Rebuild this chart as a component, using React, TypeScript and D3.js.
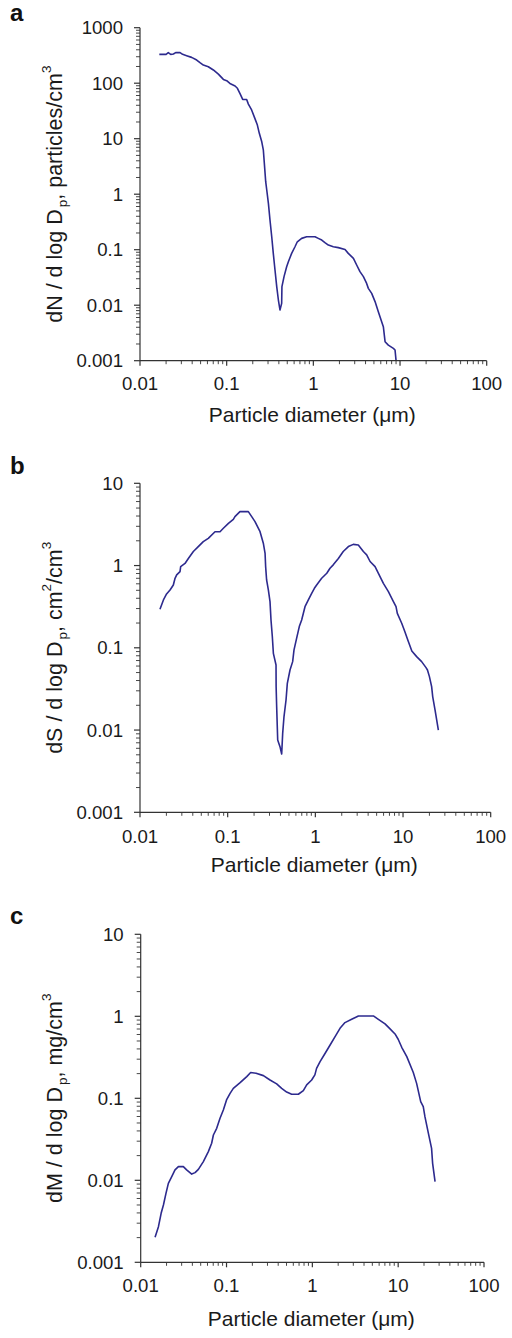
import React from "react";
import * as d3 from "d3";

// ---------- Data ----------
const xTickValues = [0.01, 0.1, 1, 10, 100];
const xTickLabels = ["0.01", "0.1", "1", "10", "100"];

const aTickValues = [0.001, 0.01, 0.1, 1, 10, 100, 1000];
const aTickLabels = ["0.001", "0.01", "0.1", "1", "10", "100", "1000"];
const bcTickValues = [0.001, 0.01, 0.1, 1, 10];
const bcTickLabels = ["0.001", "0.01", "0.1", "1", "10"];

// Panel a: number distribution
const aDiam = [
  0.0167, 0.02, 0.0212, 0.0226, 0.0243, 0.0258, 0.029, 0.031, 0.0345, 0.0394,
  0.0451, 0.0492, 0.0538, 0.0614, 0.0702, 0.0802, 0.0916, 0.1, 0.109, 0.125,
  0.133, 0.143, 0.153, 0.17, 0.178, 0.194, 0.212, 0.226, 0.238, 0.254,
  0.265, 0.272, 0.282, 0.29, 0.303, 0.316, 0.331, 0.345, 0.361, 0.378,
  0.395, 0.412, 0.431, 0.434, 0.459, 0.492, 0.515, 0.562, 0.614, 0.653,
  0.733, 0.837, 1.045, 1.14, 1.25, 1.36, 1.49, 1.7, 1.94, 2.32,
  2.53, 2.9, 3.16, 3.45, 3.78, 4.12, 4.31, 4.71, 5.15, 5.62,
  6.14, 6.42, 6.72, 7.33, 8.38, 8.76, 9.0,
];
const aValue = [
  331, 331, 355, 331, 336, 355, 355, 331, 313, 292,
  261, 234, 212, 198, 173, 146, 117, 111, 99, 89,
  81, 64, 51, 51, 42, 33, 23, 17.6, 12.5, 8.8,
  6.2, 3.6, 1.68, 1.19, 0.684, 0.343, 0.171, 0.0859, 0.043, 0.0216,
  0.0124, 0.0082, 0.0108, 0.0216, 0.0327, 0.0494, 0.0608, 0.0859, 0.113, 0.139,
  0.16, 0.171, 0.171, 0.16, 0.149, 0.134, 0.121, 0.113, 0.109, 0.101,
  0.0859, 0.0698, 0.053, 0.0402, 0.0327, 0.0247, 0.0201, 0.0163, 0.0116, 0.00764,
  0.00505, 0.0041, 0.0022, 0.00191, 0.00167, 0.00156, 0.001,
];

// Panel b: surface distribution
const bDiam = [
  0.0169, 0.0185, 0.0201, 0.022, 0.024, 0.0251, 0.0262, 0.0286, 0.0291, 0.0326,
  0.0356, 0.0406, 0.0462, 0.0527, 0.0601, 0.0717, 0.0818, 0.0893, 0.102, 0.116,
  0.121, 0.138, 0.172, 0.188, 0.205, 0.234, 0.255, 0.267, 0.271, 0.278,
  0.291, 0.304, 0.312, 0.323, 0.332, 0.356, 0.357, 0.362, 0.372, 0.395,
  0.413, 0.424, 0.439, 0.463, 0.479, 0.514, 0.551, 0.571, 0.612, 0.656,
  0.698, 0.762, 0.832, 0.908, 0.975, 1.035, 1.18, 1.35, 1.47, 1.6,
  1.83, 2.08, 2.38, 2.71, 3.09, 3.53, 3.85, 4.21, 4.8, 5.24,
  5.97, 6.81, 7.77, 8.32, 8.61, 9.66, 10.5, 11.5, 12.6, 14.3,
  16.3, 18.3, 19.0, 20.0, 21.2, 21.8, 23.2, 25.3,
];
const bValue = [
  0.294, 0.382, 0.452, 0.505, 0.581, 0.7, 0.769, 0.844, 0.97, 1.06,
  1.22, 1.48, 1.7, 1.95, 2.14, 2.58, 2.58, 2.84, 3.26, 3.65,
  3.93, 4.53, 4.53, 3.93, 3.42, 2.58, 1.87, 1.41, 0.97, 0.668,
  0.505, 0.364, 0.218, 0.137, 0.0857, 0.0618, 0.0337, 0.0193, 0.00757, 0.00628,
  0.00512, 0.00912, 0.0146, 0.0232, 0.037, 0.0537, 0.0679, 0.0942, 0.131, 0.181,
  0.218, 0.316, 0.382, 0.46, 0.529, 0.581, 0.7, 0.805, 0.927, 1.02,
  1.22, 1.48, 1.7, 1.81, 1.78, 1.48, 1.35, 1.12, 0.97, 0.805,
  0.608, 0.482, 0.364, 0.316, 0.262, 0.199, 0.157, 0.119, 0.0915, 0.0781,
  0.0679, 0.0574, 0.0537, 0.0446, 0.0337, 0.0255, 0.0175, 0.01,
];

// Panel c: mass distribution
const cDiam = [
  0.0147, 0.0161, 0.0173, 0.0184, 0.0197, 0.021, 0.023, 0.0251, 0.0275, 0.0314,
  0.0343, 0.0393, 0.043, 0.047, 0.0537, 0.0614, 0.0671, 0.0703, 0.0768, 0.084,
  0.0918, 0.1, 0.11, 0.12, 0.144, 0.172, 0.191, 0.221, 0.269, 0.321,
  0.384, 0.439, 0.502, 0.574, 0.687, 0.785, 0.859, 0.982, 1.07, 1.12,
  1.23, 1.41, 1.61, 1.84, 2.1, 2.4, 2.87, 3.44, 5.14, 5.88,
  7.03, 8.04, 9.19, 10.0, 11.0, 12.6, 15.0, 16.4, 18.3, 19.6,
  20.5, 22.5, 24.5, 25.2, 26.9,
];
const cValue = [
  0.00202, 0.00272, 0.00396, 0.005, 0.00693, 0.00918, 0.0111, 0.0134, 0.0147, 0.0147,
  0.0134, 0.0119, 0.0124, 0.0136, 0.0169, 0.0224, 0.0283, 0.0357, 0.0431, 0.057,
  0.0721, 0.0955, 0.115, 0.132, 0.155, 0.184, 0.206, 0.202, 0.189, 0.167,
  0.15, 0.132, 0.119, 0.112, 0.112, 0.124, 0.146, 0.167, 0.193, 0.232,
  0.28, 0.354, 0.447, 0.565, 0.714, 0.838, 0.919, 1.01, 1.01, 0.919,
  0.807, 0.702, 0.609, 0.525, 0.419, 0.322, 0.206, 0.152, 0.091, 0.079,
  0.0597, 0.0374, 0.0245, 0.0161, 0.00964,
];

// ---------- Layout / style ----------
const FONT = "'Liberation Sans', Arial, Helvetica, sans-serif";
const LINE_COLOR = "#2d2a8e";
const AXIS_COLOR = "#333333";
const TEXT_COLOR = "#1a1a1a";

type Part = { t: string; k?: "sub" | "sup" };

const panels = [
  {
    letter: "a",
    letterY: 21,
    left: 140, right: 486.7, top: 27.7, bottom: 360.7,
    yDomain: [0.001, 1000],
    yTicks: aTickValues, yLabels: aTickLabels,
    diam: aDiam, value: aValue,
    tickLabelDy: 29, titleDy: 61,
    yTitle: [
      { t: "dN / d log D" }, { t: "p", k: "sub" }, { t: ", particles/cm" }, { t: "3", k: "sup" },
    ] as Part[],
  },
  {
    letter: "b",
    letterY: 474,
    left: 140, right: 490.7, top: 483.3, bottom: 812.3,
    yDomain: [0.001, 10],
    yTicks: bcTickValues, yLabels: bcTickLabels,
    diam: bDiam, value: bValue,
    tickLabelDy: 31, titleDy: 60,
    yTitle: [
      { t: "dS / d log D" }, { t: "p", k: "sub" }, { t: ", cm" }, { t: "2", k: "sup" },
      { t: "/cm" }, { t: "3", k: "sup" },
    ] as Part[],
  },
  {
    letter: "c",
    letterY: 924,
    left: 140.7, right: 484, top: 934.3, bottom: 1262.3,
    yDomain: [0.001, 10],
    yTicks: bcTickValues, yLabels: bcTickLabels,
    diam: cDiam, value: cValue,
    tickLabelDy: 29.5, titleDy: 64,
    yTitle: [
      { t: "dM / d log D" }, { t: "p", k: "sub" }, { t: ", mg/cm" }, { t: "3", k: "sup" },
    ] as Part[],
  },
];

function minorTicks(lo: number, hi: number): number[] {
  const out: number[] = [];
  const k0 = Math.floor(Math.log10(lo));
  const k1 = Math.ceil(Math.log10(hi));
  for (let k = k0; k < k1; k++) {
    for (let m = 2; m <= 9; m++) {
      const v = m * Math.pow(10, k);
      if (v > lo && v < hi) out.push(v);
    }
  }
  return out;
}

function YTitle({ parts, cx, cy }: { parts: Part[]; cx: number; cy: number }) {
  const SUB = 5;
  const SUP = 11;
  const spans: React.ReactNode[] = [];
  let shift = 0;
  parts.forEach((p, i) => {
    const target = p.k === "sub" ? SUB : p.k === "sup" ? -SUP : 0;
    const dy = target - shift;
    shift = target;
    spans.push(
      <tspan key={i} dy={dy} fontSize={p.k ? 13.5 : 21.5} dx={p.k === "sub" ? 2 : 0}>
        {p.t}
      </tspan>
    );
  });
  return (
    <text
      transform={`translate(${cx},${cy}) rotate(-90)`}
      textAnchor="middle"
      fontFamily={FONT}
      fill={TEXT_COLOR}
      fontSize={21.5}
    >
      {spans}
    </text>
  );
}

function Panel({ cfg }: { cfg: (typeof panels)[number] }) {
  const x = d3.scaleLog().domain([0.01, 100]).range([cfg.left, cfg.right]);
  const y = d3.scaleLog().domain(cfg.yDomain).range([cfg.bottom, cfg.top]);
  const pts: [number, number][] = cfg.diam.map((d, i) => [d, cfg.value[i]]);
  const line = d3
    .line<[number, number]>()
    .x((p) => x(p[0]))
    .y((p) => y(p[1]));

  const xMinor = minorTicks(0.01, 100);
  const yMinor = minorTicks(cfg.yDomain[0], cfg.yDomain[1]);

  return (
    <g>
      <text x={10} y={cfg.letterY} fontFamily={FONT} fontWeight="bold" fontSize={24} fill="#111">
        {cfg.letter}
      </text>

      {/* data line */}
      <path d={line(pts) || ""} fill="none" stroke={LINE_COLOR} strokeWidth={1.6} strokeLinejoin="round" />

      {/* axes */}
      <g stroke={AXIS_COLOR} strokeWidth={1.2} fill="none">
        <line x1={cfg.left} x2={cfg.left} y1={cfg.top} y2={cfg.bottom} />
        <line x1={cfg.left} x2={cfg.right} y1={cfg.bottom} y2={cfg.bottom} />
        {cfg.yTicks.map((v) => (
          <line key={"ym" + v} x1={cfg.left - 6} x2={cfg.left} y1={y(v)} y2={y(v)} />
        ))}
        {yMinor.map((v) => (
          <line key={"yn" + v} x1={cfg.left - 4} x2={cfg.left} y1={y(v)} y2={y(v)} strokeWidth={0.9} />
        ))}
        {xTickValues.map((v) => (
          <line key={"xm" + v} x1={x(v)} x2={x(v)} y1={cfg.bottom} y2={cfg.bottom + 5} />
        ))}
        {xMinor.map((v) => (
          <line key={"xn" + v} x1={x(v)} x2={x(v)} y1={cfg.bottom} y2={cfg.bottom + 3.5} strokeWidth={0.9} />
        ))}
      </g>

      {/* tick labels */}
      <g fontFamily={FONT} fontSize={18.6} fill={TEXT_COLOR}>
        {cfg.yTicks.map((v, i) => (
          <text key={"yl" + v} x={cfg.left - 17} y={y(v)} dy="0.36em" textAnchor="end">
            {cfg.yLabels[i]}
          </text>
        ))}
        {xTickValues.map((v, i) => (
          <text key={"xl" + v} x={x(v)} y={cfg.bottom + cfg.tickLabelDy} textAnchor="middle">
            {xTickLabels[i]}
          </text>
        ))}
      </g>

      {/* axis titles */}
      <text
        x={(cfg.left + cfg.right) / 2 - 1}
        y={cfg.bottom + cfg.titleDy}
        textAnchor="middle"
        fontFamily={FONT}
        fontSize={21}
        fill={TEXT_COLOR}
      >
        Particle diameter (μm)
      </text>
      <YTitle parts={cfg.yTitle} cx={61.5} cy={(cfg.top + cfg.bottom) / 2} />
    </g>
  );
}

export default function App() {
  return (
    <svg
      width={512}
      height={1338}
      viewBox="0 0 512 1338"
      style={{ position: "absolute", left: 0, top: 0, background: "#fff" }}
    >
      <rect width={512} height={1338} fill="#fff" />
      {panels.map((p) => (
        <Panel key={p.letter} cfg={p} />
      ))}
    </svg>
  );
}
